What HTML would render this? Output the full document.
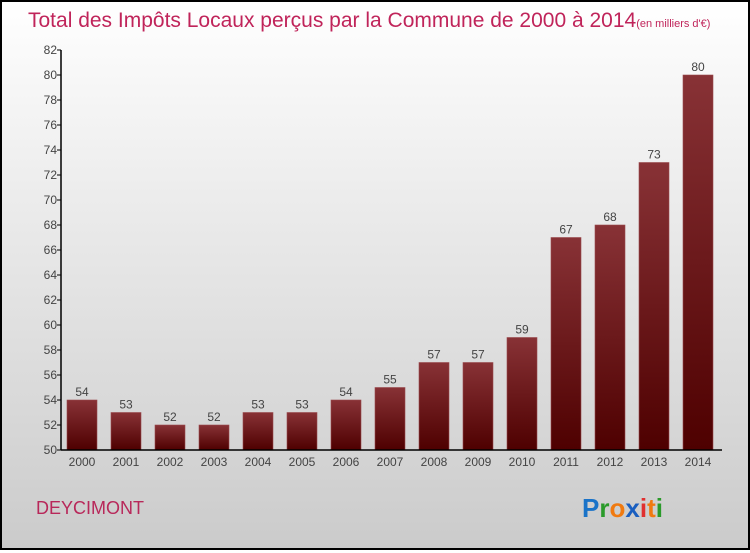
<!DOCTYPE html>
<html><head><meta charset="utf-8"><style>
html,body{margin:0;padding:0;}
body{width:750px;height:550px;overflow:hidden;font-family:"Liberation Sans",sans-serif;}
#wrap{position:relative;width:746px;height:546px;border:2px solid #000;background:linear-gradient(#fff,#f4f4f4 20%,#cbcbcb);}
</style></head><body>
<div id="wrap">
<svg id="chart" width="746" height="546" viewBox="2 2 746 546" xmlns="http://www.w3.org/2000/svg">
<defs><linearGradient id="bg" x1="0" y1="0" x2="0" y2="1"><stop offset="0" stop-color="#883236"/><stop offset="1" stop-color="#4e0000"/></linearGradient></defs>
<text x="28" y="27" font-size="21" fill="#c0245a">Total des Impôts Locaux perçus par la Commune de 2000 à 2014<tspan font-size="11">(en milliers d'€)</tspan></text>
<text x="36" y="514" font-size="18" fill="#b8285a">DEYCIMONT</text>
<text x="582" y="517" font-size="26" font-weight="bold"><tspan fill="#1a73c8">P</tspan><tspan fill="#2a9a2a">r</tspan><tspan fill="#f07a10">o</tspan><tspan fill="#1a5fc0">x</tspan><tspan fill="#e03030">i</tspan><tspan fill="#f07a10">t</tspan><tspan fill="#2a9a2a">i</tspan></text>
<g id="plot"></g>
</svg>
</div>
<script>
const categories=["2000","2001","2002","2003","2004","2005","2006","2007","2008","2009","2010","2011","2012","2013","2014"];
const values=[54,53,52,52,53,53,54,55,57,57,59,67,68,73,80];
const yTicks=[50,52,54,56,58,60,62,64,66,68,70,72,74,76,78,80,82];
const svgNS="http://www.w3.org/2000/svg";
const plotG=document.getElementById('plot');
const yMin=50,yMax=82,plotTop=50,plotBottom=450,plotLeft=61,plotRight=722;
function yScale(v){return plotBottom-(v-yMin)/(yMax-yMin)*(plotBottom-plotTop);}
function xScale(i){return 67+i*44;}
function mk(t,a){const e=document.createElementNS(svgNS,t);for(const k in a)e.setAttribute(k,a[k]);plotG.appendChild(e);return e;}
yTicks.forEach(v=>{
 const l=mk('line',{x1:plotLeft-4,x2:plotLeft,y1:yScale(v),y2:yScale(v),stroke:'#000'});
 
 
 const t=mk('text',{x:plotLeft-4,y:yScale(v)+4,'font-size':12,fill:'#444','text-anchor':'end'});
 t.textContent=v;
 
 
});
values.forEach((v,i)=>{
 const r=mk('rect',{x:xScale(i),y:yScale(v),width:30,height:plotBottom-yScale(v),fill:'url(#bg)',stroke:'#9a4a4e','stroke-width':0.6});
 
 
 const t=mk('text',{x:xScale(i)+15,y:yScale(v)-4,'font-size':12,fill:'#444','text-anchor':'middle'});
 t.textContent=v;
 
 
 const c=mk('text',{x:xScale(i)+15,y:466,'font-size':12,fill:'#444','text-anchor':'middle'});
 c.textContent=categories[i];
 
 
});
const ya=mk('line',{x1:plotLeft,x2:plotLeft,y1:plotTop,y2:plotBottom,stroke:'#000','stroke-width':1.5});


const xa=mk('line',{x1:plotLeft,x2:plotRight,y1:plotBottom,y2:plotBottom,stroke:'#000','stroke-width':1.5});


</script>
</body></html>
